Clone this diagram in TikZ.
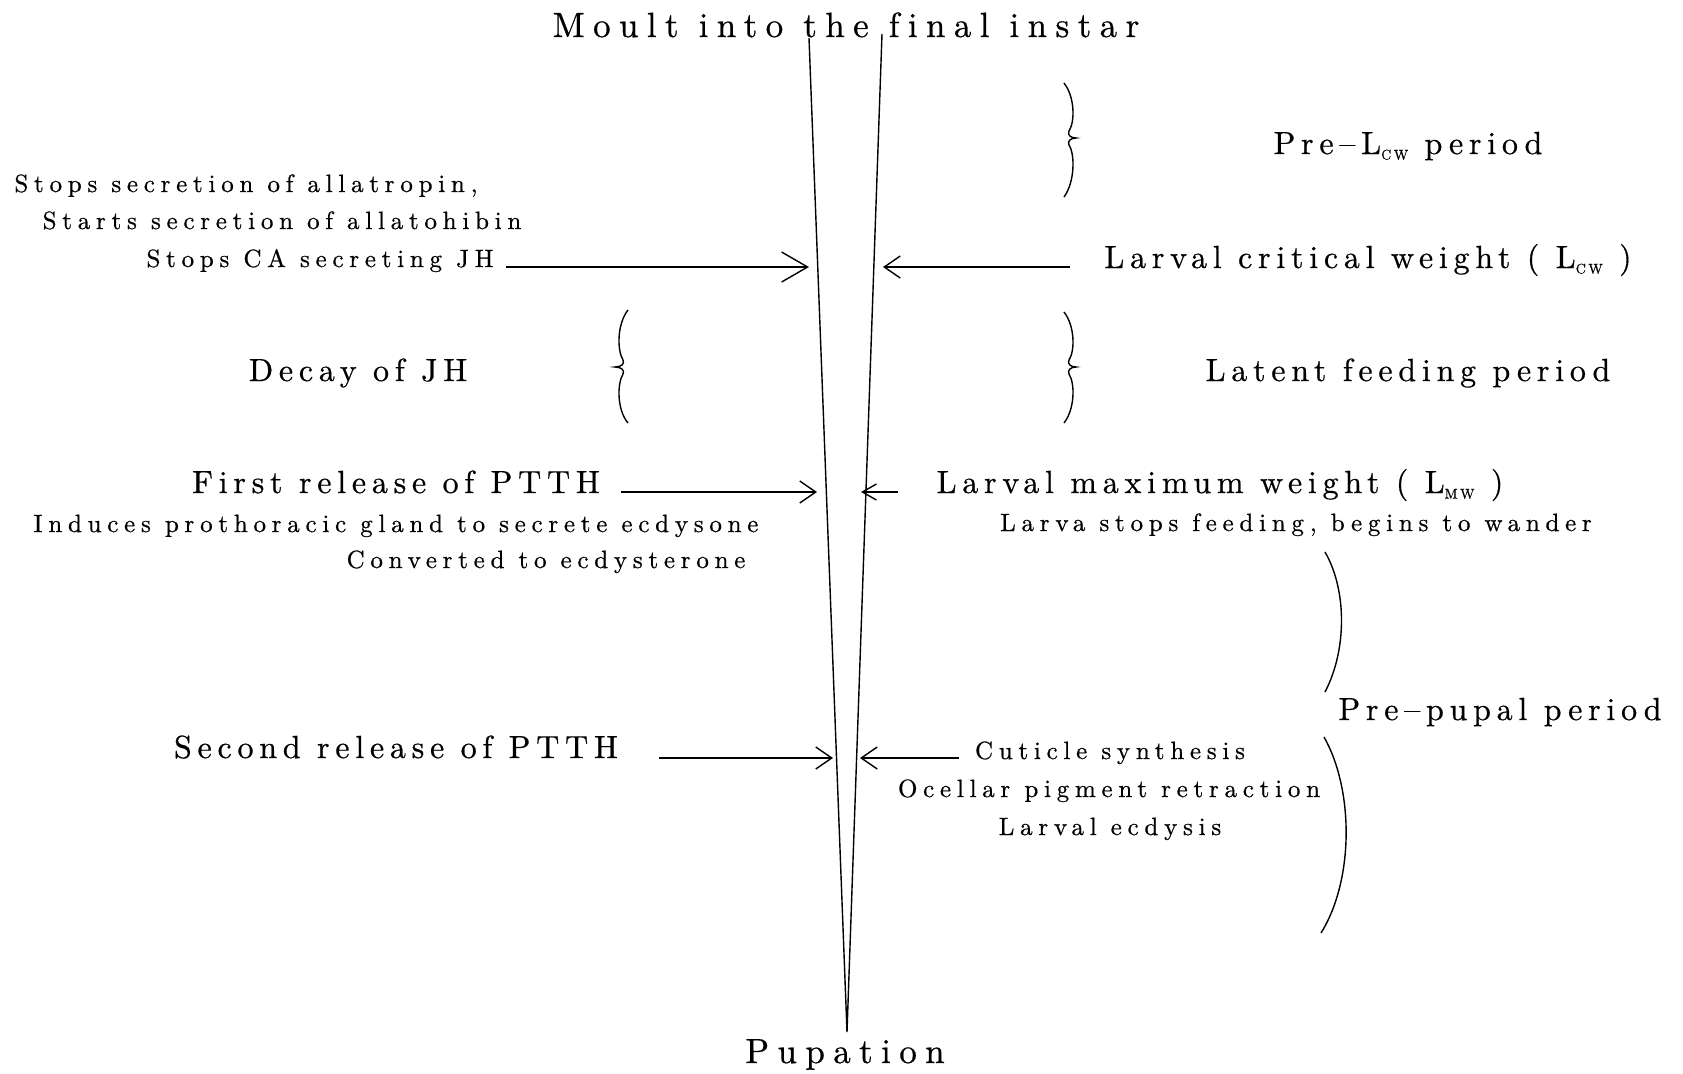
\documentclass[tikz,border=0pt]{standalone}
\usepackage{fontspec}
\setmainfont{lmroman10-regular.otf}[Ligatures=NoCommon]
\usetikzlibrary{arrows.meta}

\tikzset{
  every node/.style={inner sep=0pt, anchor=base},
  headtxt/.style={font=\fontsize{17.5}{20}\selectfont\addfontfeatures{LetterSpace=24, FakeBold=0.6}},
  bigtxt/.style={font=\fontsize{16}{19}\selectfont\addfontfeatures{LetterSpace=18, FakeBold=0.6}},
  smalltxt/.style={font=\fontsize{12.5}{15}\selectfont\addfontfeatures{LetterSpace=23, FakeBold=0.6}},
  wedge/.style={line width=0.7pt},
  bracket/.style={line width=0.7pt},
  signal/.style={line width=0.7pt, -{Straight Barb[length=8pt, width=11pt]}},
}
\newcommand{\Lsub}[1]{L\raisebox{-0.4ex}{\fontsize{7}{7}\selectfont #1}}

\begin{document}
\begin{tikzpicture}[x=0.5pt, y=-0.5pt]
\useasboundingbox (0,0) rectangle (1683,1073);

% time axis
\coordinate (moultL) at (809,38);
\coordinate (moultR) at (882,34);
\coordinate (pupa) at (847,1032);
\draw [wedge] (moultL) -- (pupa) -- (moultR);
\node (moult) [headtxt] at (846,37) {Moult into the final instar};
\node (pupation) [headtxt] at (845,1063) {Pupation};

% left side
\node (allatropin) [smalltxt] at (246,192) {Stops secretion of allatropin,};
\node (allatohibin) [smalltxt] at (282,229) {Starts secretion of allatohibin};
\node (stopca) [smalltxt] at (320,267) {Stops CA secreting JH};
\node (decay) [bigtxt] at (358,381) {Decay of JH};
\node (ptthA) [bigtxt] at (396,493) {First release of PTTH};
\node (induces) [smalltxt] at (396,532) {Induces prothoracic gland to secrete ecdysone};
\node (converted) [smalltxt] at (546,568) {Converted to ecdysterone};
\node (ptthB) [bigtxt] at (396,758) {Second release of PTTH};

% right side
\node (prelcw) [bigtxt] at (1408,154) {Pre\textendash\Lsub{CW} period};
\node (lcw) [bigtxt] at (1368,268) {Larval critical weight ( \Lsub{CW} )};
\node (latent) [bigtxt] at (1408,381) {Latent feeding period};
\node (lmw) [bigtxt] at (1220,493) {Larval maximum weight ( \Lsub{MW} )};
\node (wander) [smalltxt] at (1296,531) {Larva stops feeding, begins to wander};
\node (cuticle) [smalltxt] at (1110,759) {Cuticle synthesis};
\node (ocellar) [smalltxt] at (1109,797) {Ocellar pigment retraction};
\node (ecdysis) [smalltxt] at (1110,835) {Larval ecdysis};
\node (prepupal) [bigtxt] at (1500,720) {Pre\textendash pupal period};

% arrows onto the axis
\coordinate (stopcaT) at (506,267);
\coordinate (stopcaH) at (809,267);
\coordinate (lcwT) at (1070,267);
\coordinate (lcwH) at (883,267);
\coordinate (ptthAT) at (621,492);
\coordinate (ptthAH) at (817,492);
\coordinate (lmwT) at (898,492);
\coordinate (lmwH) at (861,492);
\coordinate (ptthBT) at (659,758);
\coordinate (ptthBH) at (833,758);
\coordinate (cuticleT) at (959,758);
\coordinate (cuticleH) at (860,758);
\draw [signal, -{Straight Barb[length=13pt, width=15pt]}] (stopcaT) -- (stopcaH);
\draw [signal] (lcwT) -- (lcwH);
\draw [signal] (ptthAT) -- (ptthAH);
\draw [signal, -{Straight Barb[length=7pt, width=8pt]}] (lmwT) -- (lmwH);
\draw [signal] (ptthBT) -- (ptthBH);
\draw [signal] (cuticleT) -- (cuticleH);

% braces
\draw [bracket] (1064,83) .. controls (1075,97) and (1075,122) .. (1069,131)
  .. controls (1067,135) and (1071,138) .. (1076,138)
  .. controls (1071,138) and (1067,141) .. (1069,145)
  .. controls (1075,154) and (1075,182) .. (1064,197);
\draw [bracket] (628,310) .. controls (617,324) and (617,350) .. (623,360)
  .. controls (625,364) and (621,367) .. (615,367)
  .. controls (621,367) and (625,370) .. (623,374)
  .. controls (617,384) and (617,410) .. (628,423);
\draw [bracket] (1064,312) .. controls (1075,326) and (1075,351) .. (1069,360)
  .. controls (1067,364) and (1071,367) .. (1076,367)
  .. controls (1071,367) and (1067,370) .. (1069,374)
  .. controls (1075,383) and (1075,409) .. (1064,423);
\draw [bracket] (1325,552) .. controls (1347,590) and (1347,650) .. (1325,692);
\draw [bracket] (1324,737) .. controls (1354,790) and (1354,880) .. (1321,933);
\end{tikzpicture}
\end{document}
